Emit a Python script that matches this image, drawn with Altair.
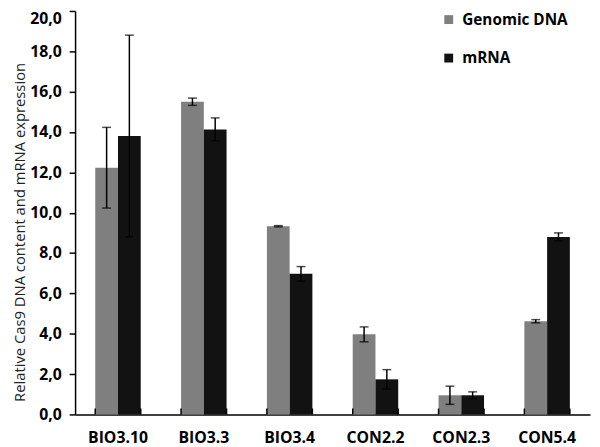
import altair as alt
import pandas as pd

categories = ["BIO3.10", "BIO3.3", "BIO3.4", "CON2.2", "CON2.3", "CON5.4"]
series = ["Genomic DNA", "mRNA"]
genomic = [12.23, 15.5, 9.33, 3.97, 0.95, 4.62]
genomic_err = [2.0, 0.18, 0.03, 0.37, 0.45, 0.08]
mrna = [13.8, 14.13, 6.97, 1.74, 0.95, 8.8]
mrna_err = [5.0, 0.57, 0.36, 0.48, 0.17, 0.2]
colors = ["#7f7f7f", "#121212"]

rows = []
for i, c in enumerate(categories):
    rows.append({"cat": c, "series": series[0], "value": genomic[i],
                 "lo": genomic[i] - genomic_err[i], "hi": genomic[i] + genomic_err[i]})
    rows.append({"cat": c, "series": series[1], "value": mrna[i],
                 "lo": mrna[i] - mrna_err[i], "hi": mrna[i] + mrna_err[i]})
df = pd.DataFrame(rows)
cats_df = pd.DataFrame({"cat": categories})

W, H = 522, 409
FONT = "Open Sans"

xscale = alt.Scale(domain=categories, paddingInner=0.47, paddingOuter=0.235)
xenc = alt.X("cat:N", scale=xscale, sort=categories,
             axis=alt.Axis(title=None, ticks=False, labelPadding=15, labelAngle=0,
                           labelFontWeight="bold", labelFontSize=16, labelFont=FONT,
                           labelColor="#000", domainColor="#000", domainWidth=1.5))
yscale = alt.Scale(domain=[0, 20], nice=False)
xoff = alt.XOffset("series:N", scale=alt.Scale(domain=series, paddingInner=0, paddingOuter=0))

bars = alt.Chart(df).mark_bar().encode(
    x=xenc,
    xOffset=xoff,
    y=alt.Y("value:Q", scale=yscale,
            axis=alt.Axis(title="Relative Cas9 DNA content and mRNA expression",
                          values=[0, 2, 4, 6, 8, 10, 12, 14, 16, 18, 20],
                          labelExpr="replace(format(datum.value, '.1f'), '.', ',')",
                          labelBaseline={"condition": {"test": "datum.value == 20", "value": "top"},
                                         "value": "middle"},
                          grid=False, tickSize=6, tickColor="#000", tickWidth=1.5,
                          domainColor="#000", domainWidth=1.5, labelPadding=8,
                          labelFontWeight="bold", labelFontSize=16, labelFont=FONT,
                          labelColor="#000", titleFont=FONT, titleFontSize=15,
                          titleFontWeight="normal", titleColor="#222",
                          titleX=-48, titleY=224)),
    color=alt.Color("series:N", scale=alt.Scale(domain=series, range=colors),
                    legend=alt.Legend(title=None, orient="none", legendX=371, legendY=1,
                                      symbolType="square", symbolSize=81,
                                      symbolStrokeWidth=0, labelFont=FONT,
                                      labelFontSize=15.5, labelFontWeight="bold",
                                      labelColor="#000", rowPadding=22,
                                      labelOffset=6)),
)

rule = alt.Chart(df).mark_rule(color="#000", strokeWidth=1.5).encode(
    x=alt.X("cat:N", scale=xscale, sort=categories),
    xOffset=xoff,
    y=alt.Y("lo:Q", scale=yscale),
    y2="hi:Q",
)
cap_lo = alt.Chart(df).mark_tick(color="#000", thickness=1.5, size=9).encode(
    x=alt.X("cat:N", scale=xscale, sort=categories),
    xOffset=xoff,
    y=alt.Y("lo:Q", scale=yscale),
)
cap_hi = alt.Chart(df).mark_tick(color="#000", thickness=1.5, size=9).encode(
    x=alt.X("cat:N", scale=xscale, sort=categories),
    xOffset=xoff,
    y=alt.Y("hi:Q", scale=yscale),
)
tick0 = alt.Chart(cats_df).mark_rule(color="#000", strokeWidth=1.5).encode(
    x=alt.X("cat:N", scale=xscale, sort=categories, bandPosition=0),
    y=alt.value(H - 6), y2=alt.value(H),
)
tick1 = alt.Chart(cats_df).mark_rule(color="#000", strokeWidth=1.5).encode(
    x=alt.X("cat:N", scale=xscale, sort=categories, bandPosition=1),
    y=alt.value(H - 6), y2=alt.value(H),
)

chart = alt.layer(bars, rule, cap_lo, cap_hi, tick0, tick1).properties(
    width=W, height=H,
    autosize=alt.AutoSizeParams(type="none"),
    padding={"left": 68, "top": 0, "right": 2, "bottom": 30},
).configure_view(stroke=None)

chart.save("out.html", embed_options={"renderer": "svg", "actions": False})
